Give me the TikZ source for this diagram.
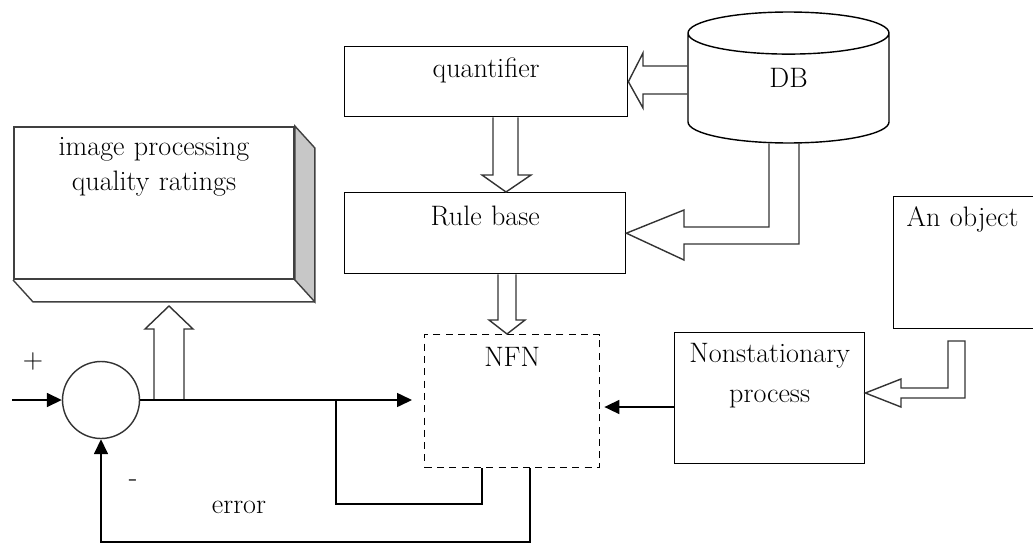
\documentclass[tikz,border=0pt]{standalone}
\usetikzlibrary{positioning, arrows.meta, shapes.geometric, calc}

\begin{document}
\begin{tikzpicture}[
  x=0.02cm, y=-0.02cm,
  every node/.style={font=\fontsize{16pt}{20pt}\selectfont, inner sep=0pt},
  block/.style={rectangle, draw, line width=0.8pt, anchor=north west, align=center},
  dashbox/.style={block, dash pattern=on 4pt off 3pt},
  storage/.style={cylinder, shape border rotate=90, draw, line width=0.8pt, anchor=shape center,
                  aspect=1.1, minimum width=4.02cm, minimum height=2.62cm},
  summer/.style={circle, draw=black!80, line width=0.8pt, minimum size=1.54cm},
  signal/.style={-{Triangle[length=0.3cm, width=0.28cm]}, line width=0.9pt},
  wire/.style={line width=0.9pt},
  hollow/.style={draw=black!80, line width=0.8pt}
]
\useasboundingbox (0,0) rectangle (1033,544);
\clip (0,0) rectangle (1033,544);

% ---- Knowledge part ----
\node (quant) [block, text width=5.66cm, text height=0.62cm, text depth=0.78cm] at (344,46) {quantifier};
\node (rules) [block, text width=5.62cm, text height=0.66cm, text depth=0.96cm] at (344,192) {Rule base};
\node (db)    [storage] at (788.5,77.5) {\phantom{DB}};
\node (dbtext) at (db.shape center) {DB};

% ---- Control loop ----
\node (nfn)  [dashbox, text width=3.5cm, text height=0.64cm, text depth=2.02cm] at (424,334) {NFN};
\node (proc) [block, text width=3.8cm, text height=0.6cm, text depth=2.02cm,
              font=\fontsize{16pt}{22.7pt}\selectfont] at (674,332) {Nonstationary\\process};
\node (obj)  [block, align=left, inner xsep=0.26cm, text width=2.52cm,
              text height=0.6cm, text depth=2.04cm] at (893,196) {An object};
\node (img)  [block, draw=black!75, line width=1.1pt, text width=5.6cm, text height=0.58cm,
              text depth=2.46cm, font=\fontsize{16pt}{19.8pt}\selectfont] at (13,126)
  {image processing\\quality ratings};
\node (sum)  [summer] at (101,400) {};

% ---- 3D faces ----
\filldraw [fill=black!22, draw=black!75, line width=0.8pt] (img.north east) -- ++(20,22)
  -- ($(img.south east)+(20,22)$) -- (img.south east) -- cycle;
\draw [draw=black!75, line width=0.8pt] (img.south west) -- ++(20,22) -- ($(img.south east)+(20,22)$);

% ---- Labels ----
\node (plus)  at (33,361) {+};
\node (minus) at (133,483) {-};
\node (err)   at (239,507) {error};

% ---- Block arrows ----
\draw [hollow] (quant.south -| 493,0) -- (493,175) -- (482,175) -- (rules.north -| 506,0)
  -- (531,175) -- (518,175) -- (quant.south -| 518,0);
\draw [hollow] (db.west |- 0,66) -- (643,66) -- (643,53) -- (quant.east)
  -- (643,108) -- (643,94) -- (db.west |- 0,94);
\draw [hollow] (db.south -| 769,0) -- (769,227) -- (684,227) -- (684,210) -- (rules.east)
  -- (684,260) -- (684,244) -- (799,244) -- (db.south -| 799,0);
\draw [hollow] (rules.south -| 498,0) -- (498,320) -- (489,320) -- (nfn.north -| 507,0)
  -- (525,320) -- (516,320) -- (rules.south -| 516,0);
\draw [hollow] (sum.east -| 154,0) -- (154,329) -- (145,329) -- (169,306)
  -- (193,329) -- (184,329) -- (sum.east -| 184,0);
\coordinate (objout) at (948,341);
\draw [hollow] (objout) -- (948,388) -- (901,388) -- (901,379) -- (proc.east |- 0,393)
  -- (901,407) -- (901,398) -- (965,398) -- (965,341) -- cycle;

% ---- Signals ----
\coordinate (inp)  at (12,400);
\coordinate (junc) at (336,400);
\draw [signal] (inp) -- (sum.west);
\draw [signal] (sum.east) -- ($(nfn.west |- sum.east)+(-12,0)$);
\draw [wire] (nfn.south -| 482,0) -- (482,504) -| (junc);
\draw [signal] (nfn.south -| 530,0) -- (530,542) -| (sum.south);
\draw [signal] (proc.west |- 0,407) -- ($(nfn.east |- 0,407)+(4,0)$);
\end{tikzpicture}
\end{document}
